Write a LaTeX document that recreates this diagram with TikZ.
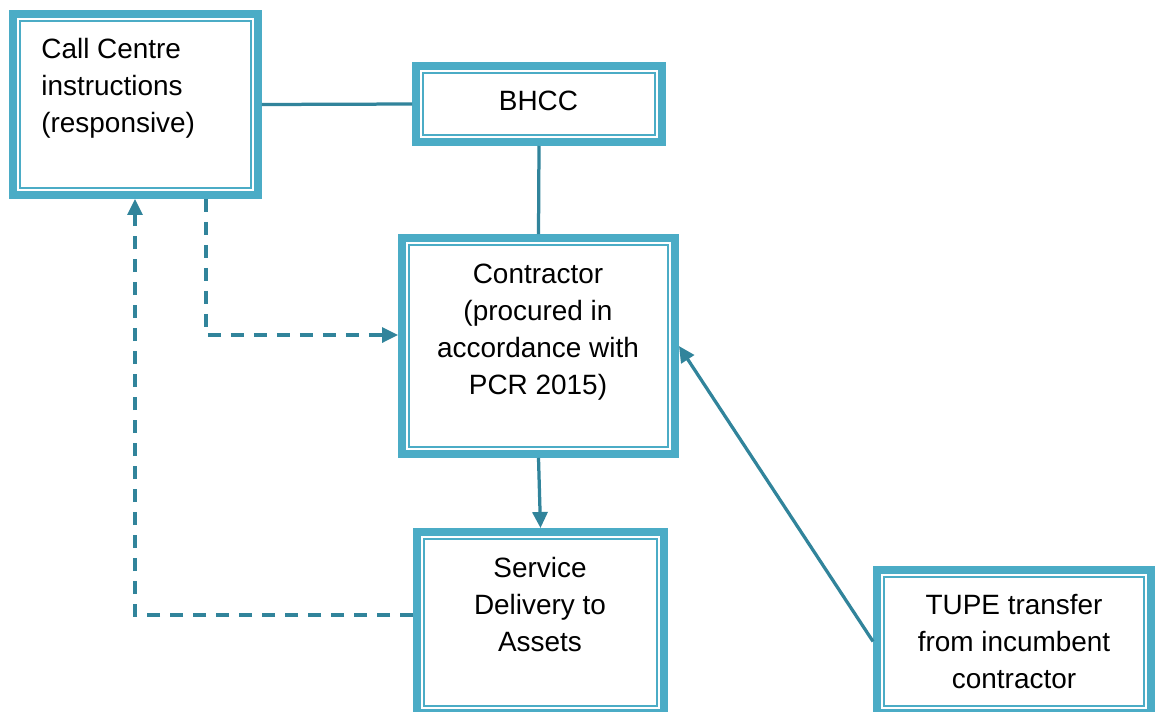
\documentclass[tikz,border=0pt]{standalone}
\usepackage{fontspec}
\setmainfont{Liberation Sans}
\usetikzlibrary{arrows.meta}
\definecolor{boxc}{HTML}{4BACC6}
\definecolor{linec}{HTML}{31849B}
\begin{document}
\begin{tikzpicture}[x=0.02cm,y=-0.02cm,
  box/.style={draw=boxc, line width=0.16cm, fill=white, outer sep=0.08cm, inner sep=0pt},
  thinbox/.style={draw=boxc, line width=0.04cm},
  txt/.style={font=\fontsize{15.9}{21.2}\selectfont, inner sep=0pt, align=center},
  conn/.style={draw=linec, line width=0.065cm},
  arr/.style={-{Triangle[length=0.32cm,width=0.3cm]}},
  dsh/.style={dash pattern=on 0.26cm off 0.2cm}]
\useasboundingbox (0,0) rectangle (1159,711);
\fill[white] (0,0) rectangle (1159,711);
\clip (0,0) rectangle (1159,711);
% boxes
\node[box, minimum width=4.9cm, minimum height=3.62cm] (cc) at (135.5,104.5) {};
\node[box, minimum width=4.92cm, minimum height=1.52cm] (bhcc) at (539,104) {};
\node[box, minimum width=5.46cm, minimum height=4.32cm] (con) at (538.5,346) {};
\node[box, minimum width=4.94cm, minimum height=3.62cm] (svc) at (540.5,622.5) {};
\node[box, minimum width=5.48cm, minimum height=2.86cm] (tupe) at (1014,641.5) {};
\foreach \n in {cc,bhcc,con,svc,tupe}
  \draw[thinbox] ([shift={(0.22cm,-0.22cm)}]\n.north west) rectangle ([shift={(-0.22cm,0.22cm)}]\n.south east);
% texts
\node[txt, anchor=west, align=left] (cct) at (41,88.5) {Call Centre\\instructions\\(responsive)};
\node[txt] (bt) at (538.5,100.5) {BHCC};
\node[txt] (ct) at (538,332) {Contractor\\(procured in\\accordance with\\PCR 2015)};
\node[txt] (st) at (540,604.3) {Service\\Delivery to\\Assets};
\node[txt] (tt) at (1014,641.4) {TUPE transfer\\from incumbent\\contractor};
% connectors
\draw[conn] (cc.east) -- (bhcc.west);
\draw[conn] (bhcc.south) -- (con.north);
\draw[conn,arr] (con.south) -- (svc.north);
\draw[conn,arr] (tupe.west) -- (con.east);
\coordinate (d1) at (206,335);
\draw[conn,arr,dsh] (cc.south -| d1) |- (con.west |- d1);
\coordinate (d2) at (135,615);
\draw[conn,arr,dsh] (svc.west |- d2) -| (cc.south -| d2);
\end{tikzpicture}
\end{document}
